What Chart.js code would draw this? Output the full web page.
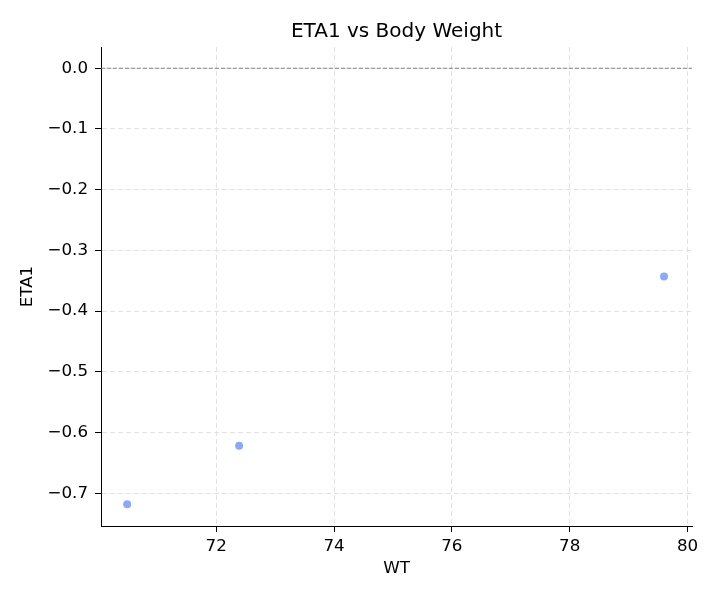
<!DOCTYPE html>
<html lang="en">
<head>
    <meta charset="UTF-8">
    <title>ETA1 vs Body Weight</title>
    <script src="https://cdn.jsdelivr.net/npm/chart.js"></script>
    <style>
        html, body { margin: 0; padding: 0; background: #fff; }
        #wrap { width: 720px; height: 600px; }
    </style>
</head>
<body>
    <div id="wrap"><canvas id="chart" width="720" height="600"></canvas></div>
    <script>
        // body weight and ETA1 per subject
        const weights = [70.49, 72.39, 79.6];
        const eta1 = [-0.718, -0.622, -0.343];

        const xTicks = [72, 74, 76, 78, 80];
        const yTicks = [0, -0.1, -0.2, -0.3, -0.4, -0.5, -0.6, -0.7];
        const xRange = [70.046, 80.075];
        const yRange = [-0.754, 0.035];

        const fontFamily = "'DejaVu Sans', sans-serif";

        function fmtY(v) {
            const s = Math.abs(v).toFixed(1);
            return v < 0 ? "\u2212" + s : s;
        }

        const points = weights.map((w, i) => ({ x: w, y: eta1[i] }));

        new Chart(document.getElementById("chart"), {
            type: "scatter",
            data: {
                datasets: [
                    {
                        label: "ETA1",
                        data: points,
                        backgroundColor: "rgb(141, 168, 250)",
                        borderWidth: 0,
                        pointRadius: 4,
                        order: 1
                    },
                    {
                        // reference line at zero
                        type: "line",
                        data: [{ x: xRange[0], y: 0 }, { x: xRange[1], y: 0 }],
                        borderColor: "#808080",
                        borderWidth: 1,
                        borderDash: [4, 2],
                        pointRadius: 0,
                        order: 2
                    }
                ]
            },
            options: {
                responsive: false,
                animation: false,
                layout: { padding: { left: 0, right: 28, top: 0, bottom: 0 } },
                plugins: {
                    legend: { display: false },
                    tooltip: { enabled: false },
                    title: {
                        display: true,
                        fullSize: false,
                        text: "ETA1 vs Body Weight",
                        color: "#000",
                        font: { family: fontFamily, size: 20, weight: "normal" },
                        padding: { top: 20, bottom: 3 }
                    }
                },
                scales: {
                    x: {
                        type: "linear",
                        min: xRange[0],
                        max: xRange[1],
                        afterBuildTicks: (scale) => { scale.ticks = xTicks.map(v => ({ value: v })); },
                        afterFit: (scale) => { scale.height = 74; },
                        ticks: {
                            color: "#000",
                            font: { family: fontFamily, size: 16.7 },
                            padding: 5,
                            maxRotation: 0
                        },
                        grid: {
                            color: "#e2e2e2",
                            tickColor: "#000",
                            tickLength: 6,
                            lineWidth: 1
                        },
                        border: { color: "#000", width: 1, dash: [5, 3] },
                        title: {
                            display: true,
                            text: "WT",
                            color: "#000",
                            font: { family: fontFamily, size: 16.7 },
                            padding: { top: 0, bottom: 21 }
                        }
                    },
                    y: {
                        type: "linear",
                        min: yRange[0],
                        max: yRange[1],
                        afterBuildTicks: (scale) => { scale.ticks = yTicks.map(v => ({ value: v })); },
                        afterFit: (scale) => { scale.width = 101; },
                        ticks: {
                            color: "#000",
                            font: { family: fontFamily, size: 16.7 },
                            padding: 7,
                            callback: (v) => fmtY(v)
                        },
                        grid: {
                            color: "#e2e2e2",
                            tickColor: "#000",
                            tickLength: 6,
                            lineWidth: 1
                        },
                        border: { color: "#000", width: 1, dash: [5, 3] },
                        title: {
                            display: true,
                            text: "ETA1",
                            color: "#000",
                            font: { family: fontFamily, size: 16.7 },
                            padding: { top: 18, bottom: 0 }
                        }
                    }
                }
            }
        });
    </script>
</body>
</html>
